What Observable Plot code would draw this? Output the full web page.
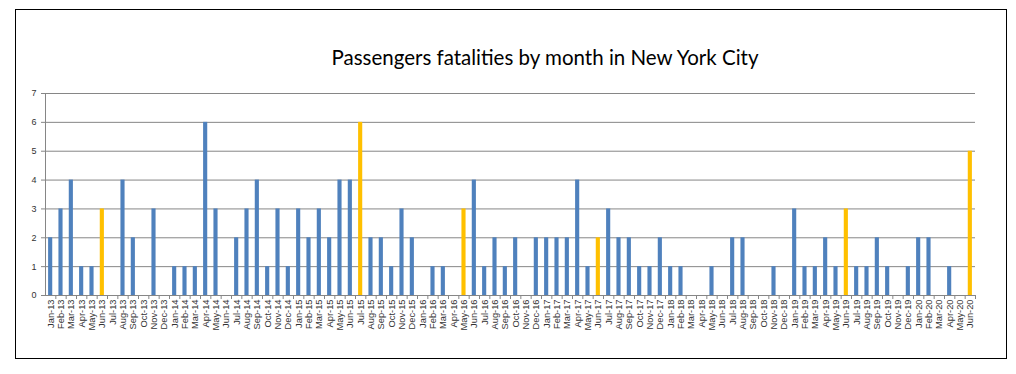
<!DOCTYPE html>
<html>
<head>
<meta charset="utf-8">
<script src="https://cdn.jsdelivr.net/npm/d3@7"></script>
<script src="https://cdn.jsdelivr.net/npm/@observablehq/plot@0.6"></script>
<style>
  html, body { margin: 0; padding: 0; background: #fff; }
  #wrap { position: relative; width: 1016px; height: 374px; overflow: hidden; }
  #border { position: absolute; left: 15px; top: 9px; width: 992px; height: 350px; border: 1px solid #000; box-sizing: border-box; }
  #title { position: absolute; left: 0; top: 45px; width: 1090px; text-align: center; font-family: Lato, "Open Sans", sans-serif; font-size: 20.5px; color: #000; white-space: nowrap; }
  #chart { position: absolute; left: 0; top: 0; }
</style>
</head>
<body>
<div id="wrap">
  <div id="border"></div>
  <div id="title">Passengers fatalities by month in New York City</div>
  <div id="chart"></div>
</div>
<script>
const months = ["Jan","Feb","Mar","Apr","May","Jun","Jul","Aug","Sep","Oct","Nov","Dec"];
const years = ["13","14","15","16","17","18","19","20"];
const labels = years.flatMap(y => months.map(m => `${m}-${y}`)).slice(0, 90);

const fatalities = [
  2,3,4,1,1,3,0,4,2,0,3,0,   // 2013
  1,1,1,6,3,0,2,3,4,1,3,1,   // 2014
  3,2,3,2,4,4,6,2,2,1,3,2,   // 2015
  0,1,1,0,3,4,1,2,1,2,0,2,   // 2016
  2,2,2,4,1,2,3,2,2,1,1,2,   // 2017
  1,1,0,0,1,0,2,2,0,0,1,0,   // 2018
  3,1,1,2,1,3,1,1,2,1,0,1,   // 2019
  2,2,0,1,0,5              // 2020
];
const highlighted = ["Jun-13","Jul-15","May-16","Jun-17","Jun-19","Jun-20"];
const yTicks = [0,1,2,3,4,5,6,7];

const data = labels.map((label, i) => ({label, value: fatalities[i], hi: highlighted.includes(label)}));

const width = 1016, height = 374;
const marginLeft = 45, marginRight = 41, marginTop = 93, marginBottom = 79;
const bw = (width - marginLeft - marginRight) / labels.length;
const grey = "#868686";
const textColor = "#333333";

const chart = Plot.plot({
  width, height, marginLeft, marginRight, marginTop, marginBottom,
  style: {fontFamily: "'Liberation Sans', Arial, sans-serif", background: "transparent", overflow: "visible"},
  x: {type: "band", domain: labels, paddingInner: 0.6, paddingOuter: 0.3, align: 0.5, round: false, label: null},
  y: {domain: [0, 7], label: null},
  color: {domain: [false, true], range: ["#4f81bd", "#ffc000"]},
  marks: [
    Plot.gridY(yTicks, {stroke: grey, strokeOpacity: 1, strokeWidth: 1}),
    Plot.barY(data, {x: "label", y: "value", fill: "hi", insetLeft: 0, insetRight: 0}),
    Plot.ruleX([labels[0]], {y1: 0, y2: 7, stroke: grey, dx: -bw / 2}),
    Plot.axisY({ticks: yTicks, tickSize: 4, stroke: grey, fill: textColor, fontSize: 9, tickPadding: 5, label: null, tickFormat: d => d}),
    Plot.axisX({tickSize: 4, stroke: grey, tickFormat: () => "", dx: bw / 2, label: null}),
    Plot.axisX({tickSize: 0, tickRotate: -90, fill: textColor, fontSize: 9.3, tickPadding: 4, label: null})
  ]
});
document.getElementById("chart").appendChild(chart);
</script>
</body>
</html>
